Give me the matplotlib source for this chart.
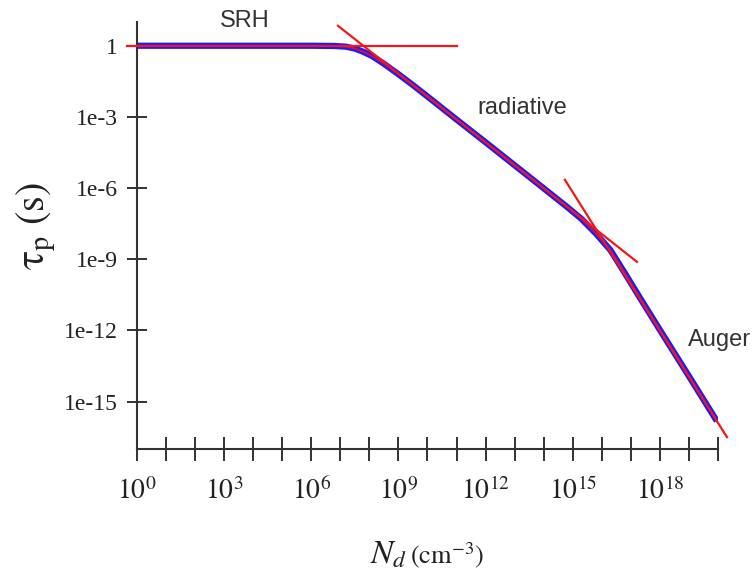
#!/usr/bin/env python3
"""Hole lifetime tau_p vs donor density N_d, with SRH / radiative / Auger asymptotes."""

import matplotlib
matplotlib.use("Agg")
import matplotlib.pyplot as plt
import numpy as np

# curve, as log10 values
curve_log_nd = [0, 6.0, 6.8, 7.2, 7.5, 7.8, 8.1, 8.5, 9.0, 9.5, 10.0, 11.0, 12.0,
                13.0, 14.0, 14.8, 15.3, 15.8, 16.3, 16.8, 17.3, 18.0, 19.0, 19.96]
curve_log_tau = [0, 0, -0.01, -0.04, -0.12, -0.26, -0.44, -0.76, -1.2, -1.66, -2.14,
                 -3.11, -4.07, -5.04, -6.01, -6.79, -7.3, -7.92, -8.62, -9.6, -10.6,
                 -11.98, -13.93, -15.82]

# asymptote segments (log10 endpoints)
srh_log_nd = [-0.36, 11.0]
srh_log_tau = [0.0, 0.0]
rad_log_nd = [6.92, 17.21]
rad_log_tau = [0.84, -9.11]
auger_log_nd = [14.73, 20.31]
auger_log_tau = [-5.65, -16.5]

x_decades = list(range(0, 21))
x_label_decades = [0, 3, 6, 9, 12, 15, 18]
y_ticks = [1e-15, 1e-12, 1e-9, 1e-6, 1e-3, 1]
y_ticklabels = ["1e-15", "1e-12", "1e-9", "1e-6", "1e-3", "1"]

plt.rcParams["mathtext.fontset"] = "stix"

fig = plt.figure(figsize=(7.56, 5.78), dpi=100)
ax = fig.add_axes([0.1812, 0.2232, 0.9497 - 0.1812, 0.9619 - 0.2232])
ax.set_xscale("log")
ax.set_yscale("log")

nd = 10.0 ** np.array(curve_log_nd)
tau = 10.0 ** np.array(curve_log_tau)
ax.plot(nd, tau, color="#1a1aff", lw=4.5, solid_capstyle="butt", zorder=2)
ax.plot(nd, tau, color="#e8102a", lw=1.4, alpha=0.85, zorder=3)

for lx, ly in [(srh_log_nd, srh_log_tau), (rad_log_nd, rad_log_tau),
               (auger_log_nd, auger_log_tau)]:
    ax.plot(10.0 ** np.array(lx), 10.0 ** np.array(ly), color="#f01818",
            lw=1.6, zorder=4, clip_on=False)

ax.set_xlim(1, 1e20)
ax.set_ylim(1e-17, 10)

ax.set_xticks([10.0 ** d for d in x_decades])
ax.set_xticklabels([rf"$10^{{{d}}}$" if d in x_label_decades else "" for d in x_decades],
                   fontsize=20)
ax.xaxis.set_minor_locator(matplotlib.ticker.NullLocator())
ax.set_yticks(y_ticks)
ax.set_yticklabels(y_ticklabels, fontsize=17, family="Liberation Serif")
ax.yaxis.set_minor_locator(matplotlib.ticker.NullLocator())

ax.tick_params(axis="x", direction="inout", length=17, width=1.4, color="#333333",
               pad=12, labelcolor="#222222")
ax.tick_params(axis="y", direction="inout", length=15, width=1.4, color="#333333",
               pad=6, labelcolor="#222222")

for side in ["top", "right"]:
    ax.spines[side].set_visible(False)
for side in ["left", "bottom"]:
    ax.spines[side].set_linewidth(1.5)
    ax.spines[side].set_color("#333333")

txt = dict(fontsize=17, family="Liberation Sans", color="#333333",
           ha="center", va="center")
fig.text(245 / 756, 1 - 21 / 578, "SRH", **txt)
fig.text(522 / 756, 1 - 108 / 578, "radiative", **txt)
fig.text(720 / 756, 1 - 340 / 578, "Auger", **txt)

fig.text(36 / 756, 1 - 226 / 578, r"$\mathrm{\tau_{p}}\ (\mathrm{s})$", rotation=90,
         fontsize=29, ha="center", va="center", color="#222222")
fig.text(370 / 756, 15 / 578, r"$N_d$", fontsize=24, ha="left", va="baseline",
         color="#222222")
fig.text(410 / 756, 15 / 578, r"$(\mathrm{cm}^{-3})$", fontsize=19, ha="left",
         va="baseline", color="#222222")

fig.savefig("out.png", dpi=100)
